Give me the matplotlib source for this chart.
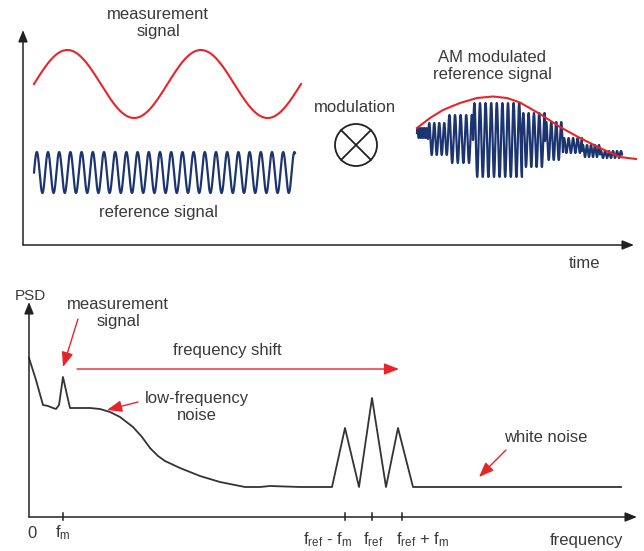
import numpy as np
import matplotlib
matplotlib.use("Agg")
import matplotlib.pyplot as plt
from matplotlib.patches import Circle

plt.rcParams['font.family'] = ['Liberation Sans', 'DejaVu Sans']
plt.rcParams['mathtext.fontset'] = 'custom'
plt.rcParams['mathtext.rm'] = 'Liberation Sans'
plt.rcParams['mathtext.it'] = 'Liberation Sans:italic'

# ---------------- data ----------------
# top panel: time-domain signals (time units ~ px, amplitude units ~ px)
meas_t_range = [11, 278]
meas_center, meas_amp, meas_period = 161, 34, 133.5
ref_t_range = [11, 272]
ref_center, ref_amp, ref_period = 72.5, 20.5, 11.2

# AM modulated signal: blocks of constant amplitude
am_block_start = [394, 405, 425, 450, 499, 522, 540, 559, 577]
am_block_end = [405, 425, 450, 499, 522, 540, 559, 577, 599]
am_block_center = [112, 106, 106, 105, 105, 104, 99.5, 94, 90.5]
am_block_amp = [5, 16, 24, 37, 27, 19, 7.5, 6, 3.5]
am_block_period = [2.2, 5.0, 5.6, 5.6, 5.3, 5.0, 4.5, 4.0, 4.0]

env_t = [394, 407, 420, 437, 454, 470, 484, 497, 517, 537, 557, 577, 597, 613]
env_y = [117, 127, 135, 142, 147, 148.5, 147, 142.5, 131, 118, 107, 97, 88, 86]

# bottom panel: PSD curve (frequency, PSD)
psd_f = [0, 7, 14, 19, 24, 27, 30, 34, 38, 41, 61, 71, 81, 91, 104, 113, 121,
         129, 136, 151, 171, 191, 216, 231, 241, 271, 303, 316, 330, 343, 357,
         369, 384, 592]
psd_v = [159, 137, 112, 111, 109, 108, 112, 140, 122, 109, 109, 108, 105, 100,
         90, 80, 69, 61, 56, 49, 41, 35, 30, 30, 31, 30, 30, 89, 30, 119, 30,
         89, 30, 30]

tick_pos = [34, 316, 343, 373]
tick_labels = [r'$\mathregular{f_m}$',
               r'$\mathregular{f_{ref}}$ - $\mathregular{f_m}$',
               r'$\mathregular{f_{ref}}$',
               r'$\mathregular{f_{ref}}$ + $\mathregular{f_m}$']

RED = '#e8242a'
BLUE = '#1c3570'
TXT = '#3a3a3a'
AX = '#222222'

fig = plt.figure(figsize=(6.44, 5.51), dpi=100)
fig.patch.set_facecolor('white')

# ---------------- top panel ----------------
axt = fig.add_axes([0, 276 / 551, 1, 275 / 551])
axt.set_xlim(-23, 621)
axt.set_ylim(-30, 245)
axt.axis('off')

arrow_kw = dict(arrowstyle='-|>,head_length=0.7,head_width=0.28', color=AX,
                lw=1.1, shrinkA=0, shrinkB=0, mutation_scale=10)
axt.annotate('', xy=(0, 215), xytext=(0, 0), arrowprops=arrow_kw)
axt.annotate('', xy=(611, 0), xytext=(0, 0), arrowprops=arrow_kw)

t = np.linspace(meas_t_range[0], meas_t_range[1], 600)
axt.plot(t, meas_center + meas_amp * np.sin(2 * np.pi * (t - t[0]) / meas_period),
         color=RED, lw=1.5)
t = np.linspace(ref_t_range[0], ref_t_range[1], 1500)
axt.plot(t, ref_center + ref_amp * np.sin(2 * np.pi * (t - t[0]) / ref_period),
         color=BLUE, lw=1.6)

am_t, am_y = [], []
for s, e, c, a, p in zip(am_block_start, am_block_end, am_block_center,
                         am_block_amp, am_block_period):
    tt = np.linspace(s, e, 300)
    am_t.append(tt)
    am_y.append(c + a * np.sin(2 * np.pi * (tt - s) / p))
axt.plot(np.concatenate(am_t), np.concatenate(am_y), color=BLUE, lw=1.6)
axt.plot(env_t, env_y, color=RED, lw=1.5)

axt.add_patch(Circle((333, 100), 21, fill=False, ec=AX, lw=1.3))
d = 21 * np.cos(np.pi / 4)
axt.plot([333 - d, 333 + d], [100 - d, 100 + d], color=AX, lw=1.3)
axt.plot([333 - d, 333 + d], [100 + d, 100 - d], color=AX, lw=1.3)

fs = 12
axt.text(135, 222, 'measurement\nsignal', ha='center', va='center', fontsize=fs,
         color=TXT, linespacing=1.15)
axt.text(135, 32, 'reference signal', ha='center', va='center', fontsize=fs, color=TXT)
axt.text(332, 137, 'modulation', ha='center', va='center', fontsize=fs, color=TXT)
axt.text(469, 179, 'AM modulated\nreference signal', ha='center', va='center',
         fontsize=fs, color=TXT, linespacing=1.15)
axt.text(562, -19, 'time', ha='center', va='center', fontsize=fs, color=TXT)

# ---------------- bottom panel ----------------
axb = fig.add_axes([0, 0, 1, 276 / 551])
axb.set_xlim(-29, 615)
axb.set_ylim(-34, 242)
axb.axis('off')

axb.annotate('', xy=(0, 215), xytext=(0, 0), arrowprops=arrow_kw)
axb.annotate('', xy=(608, 0), xytext=(0, 0), arrowprops=arrow_kw)
for p in tick_pos:
    axb.plot([p, p], [-3, 4], color=AX, lw=1.1)

axb.plot(psd_f, psd_v, color='#333333', lw=1.3)

axb.text(1, 221, 'PSD', ha='center', va='center', fontsize=11, color=TXT)
axb.text(3, -16, '0', ha='center', va='center', fontsize=fs, color=TXT)
axb.text(tick_pos[0], -16, tick_labels[0], ha='center', va='center', fontsize=fs, color=TXT)
axb.text(299, -23, tick_labels[1], ha='center', va='center', fontsize=fs, color=TXT)
axb.text(344, -23, tick_labels[2], ha='center', va='center', fontsize=fs, color=TXT)
axb.text(394, -23, tick_labels[3], ha='center', va='center', fontsize=fs, color=TXT)
axb.text(558, -23, 'frequency', ha='center', va='center', fontsize=fs, color=TXT)

red_kw = dict(arrowstyle='-|>,head_length=0.9,head_width=0.35', color=RED,
              lw=1.0, shrinkA=0, shrinkB=0, mutation_scale=10)
axb.text(89, 204, 'measurement\nsignal', ha='center', va='center', fontsize=fs,
         color=TXT, linespacing=1.15)
axb.annotate('', xy=(34, 150), xytext=(49, 198), arrowprops=red_kw)
axb.text(198, 167, 'frequency shift', ha='center', va='center', fontsize=fs, color=TXT)
axb.annotate('', xy=(370, 148), xytext=(48, 148), arrowprops=red_kw)
axb.text(168, 110, 'low-frequency\nnoise', ha='center', va='center', fontsize=fs,
         color=TXT, linespacing=1.15)
axb.annotate('', xy=(78, 107), xytext=(109, 115), arrowprops=red_kw)
axb.text(517, 80, 'white noise', ha='center', va='center', fontsize=fs, color=TXT)
axb.annotate('', xy=(450, 40), xytext=(477, 67), arrowprops=red_kw)

fig.savefig('out.png', dpi=100, facecolor='white')
